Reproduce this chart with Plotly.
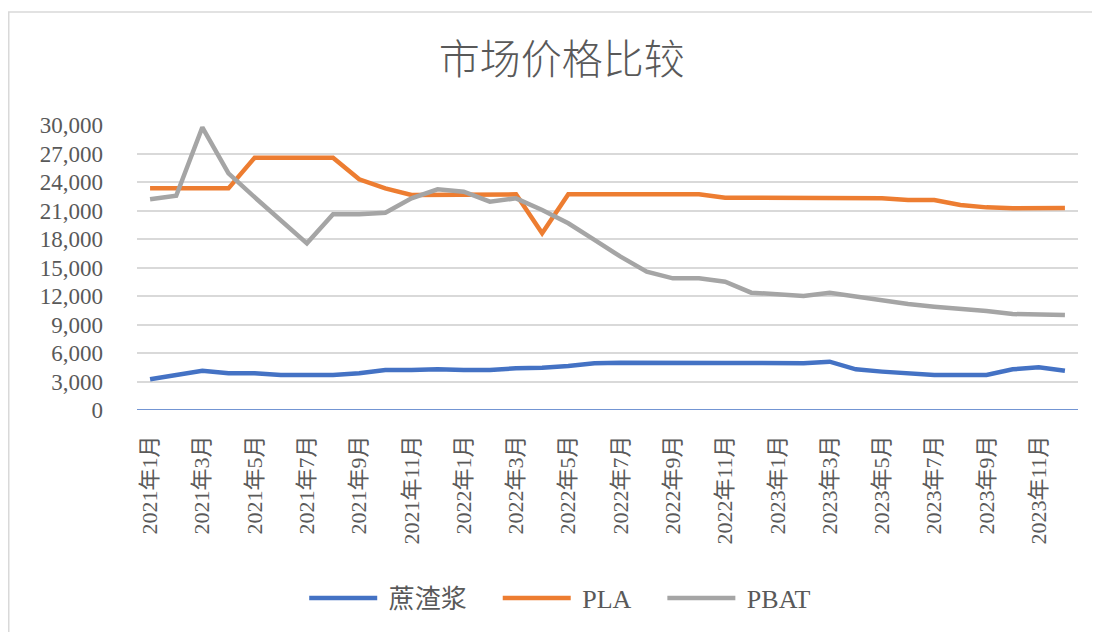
import plotly.graph_objects as go

months = [f"{y}年{m}月" for y in (2021, 2022, 2023) for m in range(1, 13)]
tick_labels = [m for i, m in enumerate(months) if i % 2 == 0]

bagasse = [3230, 3680, 4140, 3860, 3860, 3680, 3680, 3680, 3860, 4210, 4210, 4280,
           4210, 4210, 4390, 4440, 4630, 4910, 4980, 4950, 4950, 4950, 4950, 4950,
           4910, 4910, 5090, 4280, 4040, 3860, 3680, 3680, 3680, 4280, 4490, 4140]
pla = [23330, 23330, 23330, 23330, 26560, 26560, 26560, 26560, 24280, 23330, 22630, 22630,
       22630, 22630, 22700, 18600, 22700, 22700, 22700, 22700, 22700, 22700, 22350, 22350,
       22350, 22350, 22350, 22350, 22280, 22100, 22100, 21580, 21330, 21230, 21260, 21260]
pbat = [22180, 22560, 29760, 24900, 22400, 20000, 17540, 20600, 20600, 20770, 22280, 23230,
        22980, 21930, 22280, 21050, 19650, 17900, 16140, 14560, 13860, 13860, 13510, 12350,
        12170, 12000, 12350, 11930, 11580, 11160, 10880, 10700, 10420, 10100, 10100, 10000]

series_names = ["蔗渣浆", "PLA", "PBAT"]
series_values = [bagasse, pla, pbat]
series_colors = ["#4472C4", "#ED7D31", "#A5A5A5"]

FONT = "Liberation Serif, Noto Sans CJK SC, serif"
NB = "\u00a0"

fig = go.Figure()
for name, vals, color in zip(series_names, series_values, series_colors):
    fig.add_trace(go.Scatter(x=months, y=vals, name=NB + name + NB * 4, mode="lines",
                             hovertemplate=name + ": %{y:,}<extra></extra>",
                             line=dict(color=color, width=4.5)))

fig.update_layout(
    width=1092, height=624,
    margin=dict(l=129, r=22, t=117, b=222, autoexpand=False),
    paper_bgcolor="white", plot_bgcolor="white",
    title=dict(text="市场价格比较", x=0.507, xanchor="center", y=0.9167, yanchor="middle",
               font=dict(family="Noto Sans CJK SC, sans-serif", size=41, color="#595959",
                         weight=300)),
    font=dict(family=FONT, color="#595959"),
    showlegend=True,
    legend=dict(orientation="h", x=0.1777, xanchor="left", y=-0.66, yanchor="middle",
                font=dict(family=FONT, size=26, color="#595959"),
                itemwidth=68, tracegroupgap=0),
    xaxis=dict(type="category", categoryorder="array", categoryarray=months,
               range=[-0.5, 35.5], tickmode="array", tickvals=tick_labels, ticktext=tick_labels,
               tickangle=-90, tickfont=dict(family=FONT, size=22, color="#595959"),
               showgrid=False, showline=False, zeroline=False, ticks="",
               ticklabelstandoff=20),
    yaxis=dict(range=[0, 30000], tickvals=list(range(0, 30001, 3000)),
               tickformat=",d", tickfont=dict(family=FONT, size=23, color="#595959"),
               showgrid=True, gridcolor="#D9D9D9", gridwidth=1.5, zeroline=False,
               showline=False, ticks="", ticklabelstandoff=33),
    shapes=[
        dict(type="line", xref="paper", yref="y", x0=0, x1=1, y0=0, y1=0,
             line=dict(color="#4472C4", width=1.5), layer="above"),
        dict(type="rect", xref="paper", yref="paper", x0=-0.1363, x1=1.2, y0=-1.0, y1=1.3965,
             line=dict(color="#D9D9D9", width=1.5), layer="below"),
    ],
)

fig.write_html("out.html")
